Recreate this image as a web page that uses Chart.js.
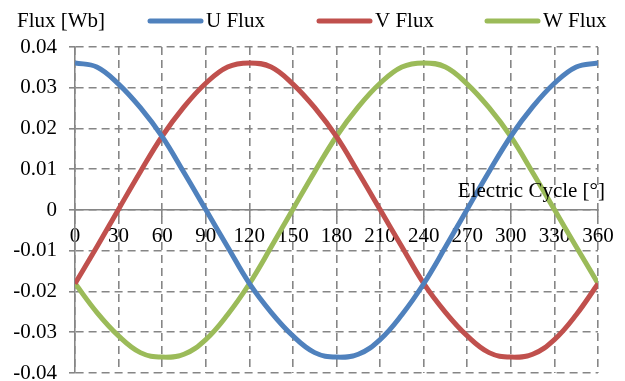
<!DOCTYPE html>
<html>
<head>
<meta charset="utf-8">
<script src="https://cdn.jsdelivr.net/npm/chart.js@4/dist/chart.umd.min.js"></script>
<style>
  html, body { margin: 0; padding: 0; background: #fff; }
  #wrap { width: 625px; height: 381px; }
</style>
</head>
<body>
<div id="wrap"><canvas id="flux-chart"></canvas></div>
<script>
// electrical angle, degrees
const angles = [0, 15, 30, 45, 60, 75, 90, 105, 120, 135, 150, 165, 180,
                195, 210, 225, 240, 255, 270, 285, 300, 315, 330, 345, 360];

// flux linkage per phase [Wb]
const uFlux = [0.0361, 0.0351, 0.0309, 0.0251, 0.0180, 0.0092, 0.0001, -0.0090, -0.0180,
               -0.0251, -0.0309, -0.0350, -0.0361, -0.0354, -0.0318, -0.0257, -0.0181,
               -0.0091, 0.0002, 0.0094, 0.0181, 0.0253, 0.0311, 0.0351, 0.0361];
const vFlux = [-0.0181, -0.0091, 0.0002, 0.0094, 0.0181, 0.0253, 0.0311, 0.0351, 0.0361,
               0.0351, 0.0309, 0.0251, 0.0180, 0.0092, 0.0001, -0.0090, -0.0180,
               -0.0251, -0.0309, -0.0350, -0.0361, -0.0354, -0.0318, -0.0257, -0.0181];
const wFlux = [-0.0180, -0.0251, -0.0309, -0.0350, -0.0361, -0.0354, -0.0318, -0.0257, -0.0181,
               -0.0091, 0.0002, 0.0094, 0.0181, 0.0253, 0.0311, 0.0351, 0.0361,
               0.0351, 0.0309, 0.0251, 0.0180, 0.0092, 0.0001, -0.0090, -0.0180];

const seriesLabels = ['U Flux', 'V Flux', 'W Flux'];
const seriesColors = ['#4f81bd', '#c0504d', '#9bbb59'];

const yTitle = 'Flux [Wb]';
const xTitle = 'Electric Cycle [°]';

const FONT = '"Liberation Serif", "Times New Roman", serif';
const GRID = '#868686';

Chart.defaults.font.family = FONT;
Chart.defaults.font.size = 21;
Chart.defaults.color = '#000';

function toPoints(values) {
    return angles.map((a, i) => ({ x: a, y: values[i] }));
}

// legend + axis titles drawn where the original puts them
const chartTexts = {
    id: 'chartTexts',
    afterDraw(chart) {
        const ctx = chart.ctx;
        ctx.save();
        ctx.font = '21px ' + FONT;
        ctx.fillStyle = '#000';
        ctx.textBaseline = 'alphabetic';

        ctx.textAlign = 'left';
        ctx.fillText(yTitle, 17, 27);

        ctx.textAlign = 'right';
        ctx.fillText(xTitle, 605, 197);

        const starts = [148, 317, 485];
        chart.data.datasets.forEach((ds, i) => {
            const x0 = starts[i];
            ctx.beginPath();
            ctx.strokeStyle = ds.borderColor;
            ctx.lineWidth = 5;
            ctx.lineCap = 'round';
            ctx.moveTo(x0 + 2, 21);
            ctx.lineTo(x0 + 53, 21);
            ctx.stroke();
            ctx.textAlign = 'left';
            ctx.fillText(ds.label, x0 + 58, 27);
        });
        ctx.restore();
    }
};

const fluxChart = new Chart(document.getElementById('flux-chart'), {
    type: 'line',
    data: {
        datasets: [uFlux, vFlux, wFlux].map((vals, i) => ({
            label: seriesLabels[i],
            data: toPoints(vals),
            borderColor: seriesColors[i],
            backgroundColor: seriesColors[i],
            borderWidth: 5,
            pointRadius: 0,
            tension: 0.4,
            fill: false
        }))
    },
    options: {
        responsive: true,
        maintainAspectRatio: false,
        animation: false,
        layout: { padding: { left: 0, top: 47, right: 27, bottom: 8 } },
        plugins: {
            legend: { display: false },
            tooltip: { enabled: false }
        },
        scales: {
            x: {
                type: 'linear',
                position: { y: 0 },
                min: 0,
                max: 360,
                ticks: { stepSize: 30, padding: 8, maxRotation: 0, autoSkip: false },
                grid: { color: GRID, lineWidth: 1.6, tickLength: 6 },
                border: { color: GRID, width: 1.6, dash: [8, 5] }
            },
            y: {
                min: -0.04,
                max: 0.04,
                ticks: { stepSize: 0.01, padding: 12 },
                grid: { color: GRID, lineWidth: 1.6, tickLength: 6 },
                border: { color: GRID, width: 1.6, dash: [8, 5] },
                afterFit(scale) {
                    scale.width = 75;
                    scale.paddingTop = 0;
                    scale.paddingBottom = 0;
                }
            }
        }
    },
    plugins: [chartTexts]
});
</script>
</body>
</html>
